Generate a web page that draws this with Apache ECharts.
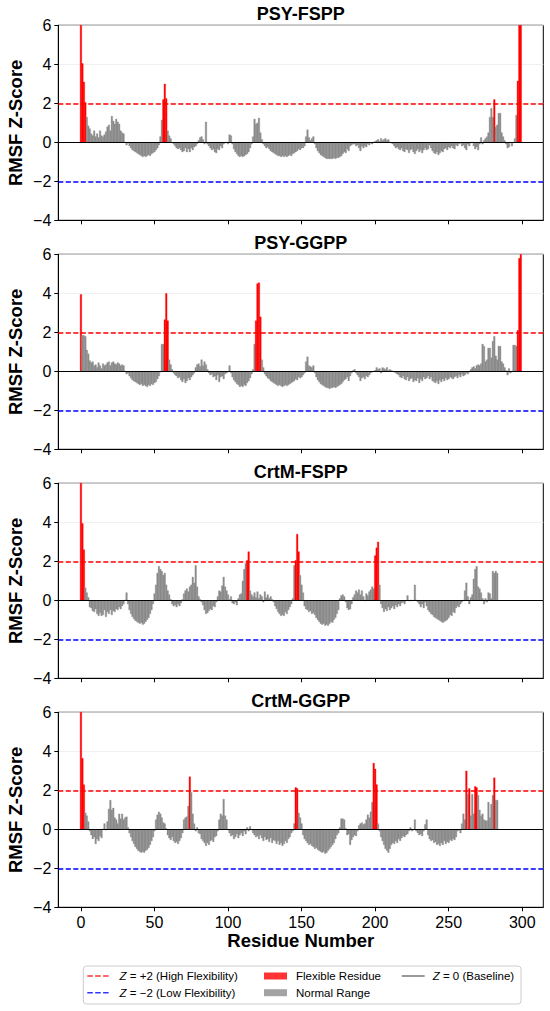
<!DOCTYPE html>
<html><head><meta charset="utf-8">
<script src="https://cdn.jsdelivr.net/npm/echarts@6/dist/echarts.min.js"></script>
<style>html,body{margin:0;padding:0;background:#fff}#c{width:550px;height:1011px}</style>
</head><body><div id="c"></div><script>
// ---------------- DATA ----------------
const panelTitles = ['PSY-FSPP', 'PSY-GGPP', 'CrtM-FSPP', 'CrtM-GGPP'];
const xTickValues = [0, 50, 100, 150, 200, 250, 300];
const flexThreshold = 2;

const psyFspp = [
  6.5, 4.05, 3.1, 2.05, 1.3, 0.85, 0.7, 0.45, 0.35, 0.6,
  0.3, 0.45, 0.25, 0.6, 0.35, 0.3, 0.4, 0.55, 0.8, 0.9,
  0.6, 1.35, 1.1, 0.95, 1.2, 1.05, 0.95, 0.6, 0.5, 0.45,
  0.0, -0.15, 0.0, -0.2, -0.3, -0.4, -0.45, -0.5, -0.55, -0.6,
  -0.65, -0.7, -0.75, -0.7, -0.75, -0.7, -0.65, -0.7, -0.6, -0.55,
  -0.5, -0.4, -0.3, -0.15, 0.3, 1.15, 2.2, 3.0, 2.25, 0.6,
  0.35, 0.2, 0.0, -0.1, -0.2, -0.3, -0.35, -0.3, -0.4, -0.5,
  -0.45, -0.3, -0.5, -0.35, -0.5, -0.3, -0.4, -0.25, -0.2, -0.1,
  0.1, 0.25, 0.3, 0.15, -0.1, 1.05, -0.1, -0.2, -0.3, -0.4,
  -0.35, -0.5, -0.55, -0.35, -0.4, -0.2, -0.3, -0.1, -0.05, 0.0,
  -0.1, 0.4, 0.35, -0.1, -0.35, -0.5, -0.6, -0.7, -0.75, -0.7,
  -0.75, -0.7, -0.65, -0.6, -0.5, -0.3, -0.1, 0.3, 1.2, 0.95,
  1.0, 1.25, 0.5, 0.15, -0.1, -0.2, -0.3, -0.25, -0.35, -0.45,
  -0.5, -0.55, -0.6, -0.65, -0.7, -0.7, -0.75, -0.7, -0.75, -0.7,
  -0.75, -0.7, -0.65, -0.7, -0.6, -0.55, -0.5, -0.45, -0.35, -0.4,
  -0.3, -0.3, -0.2, 0.3, 0.65, 0.25, 0.1, 0.2, 0.3, -0.1,
  -0.3, -0.45, -0.55, -0.65, -0.7, -0.75, -0.8, -0.85, -0.85, -0.85,
  -0.85, -0.85, -0.8, -0.85, -0.8, -0.8, -0.75, -0.7, -0.6, -0.5,
  -0.55, -0.35, -0.45, -0.2, -0.15, -0.1, -0.1, -0.2, -0.15, -0.3,
  -0.45, -0.2, -0.3, -0.2, -0.25, -0.1, -0.15, -0.05, -0.1, 0.0,
  0.05, 0.1, 0.15, 0.05, 0.2, 0.1, 0.15, 0.2, 0.1, 0.15,
  0.0, -0.05, -0.1, -0.2, -0.3, -0.25, -0.35, -0.4, -0.3, -0.45,
  -0.5, -0.35, -0.4, -0.55, -0.4, -0.35, -0.5, -0.6, -0.45, -0.35,
  -0.5, -0.4, -0.55, -0.4, -0.3, -0.4, -0.35, -0.15, -0.3, -0.45,
  -0.55, -0.6, -0.5, -0.65, -0.55, -0.45, -0.5, -0.35, -0.3, -0.4,
  -0.25, -0.3, -0.2, -0.3, -0.35, -0.15, -0.2, -0.1, -0.05, -0.2,
  -0.15, -0.3, -0.4, -0.1, -0.2, -0.05, 0.0, -0.2, -0.35, -0.25,
  -0.4, -0.1, 0.25, -0.1, 0.1, 0.2, 0.3, 0.5, 1.3, 1.75,
  1.3, 2.2, 0.8, 0.9, 1.5, 1.5, 0.5, 0.3, 0.1, -0.1,
  -0.3, -0.25, 0.0, -0.2, 0.0, 0.2, 1.4, 3.15, 6.5, 6.5
];

const psyGgpp = [
  3.95, 1.85, 1.85, 1.8, 1.1, 0.9, 0.55, 0.45, 0.5, 0.3,
  0.35, 0.2, 0.45, 0.3, 0.15, 0.4, 0.3, 0.35, 0.45, 0.5,
  0.3, 0.45, 0.5, 0.4, 0.35, 0.45, 0.4, 0.3, 0.35, 0.3,
  0.0, -0.15, -0.1, -0.25, -0.35, -0.45, -0.5, -0.55, -0.6, -0.65,
  -0.7, -0.65, -0.75, -0.7, -0.75, -0.8, -0.7, -0.75, -0.65, -0.7,
  -0.6, -0.55, -0.4, -0.25, -0.05, 1.4, 1.4, 2.65, 4.0, 2.6,
  0.6, 0.35, 0.1, -0.1, -0.2, -0.25, -0.35, -0.3, -0.45, -0.55,
  -0.4, -0.6, -0.5, -0.35, -0.45, -0.3, -0.2, -0.1, 0.2, 0.35,
  0.4, 0.25, 0.6, 0.3, 0.5, 0.35, 0.1, -0.1, -0.2, -0.15,
  -0.3, -0.25, -0.45, -0.2, -0.55, -0.3, -0.25, -0.4, -0.15, -0.1,
  -0.05, 0.3, -0.1, -0.3, -0.45, -0.55, -0.65, -0.7, -0.8, -0.75,
  -0.8, -0.7, -0.75, -0.6, -0.5, -0.35, -0.15, 0.1, 1.4, 2.6,
  4.5, 4.55, 2.8, 0.6, 0.2, -0.15, -0.25, -0.35, -0.4, -0.5,
  -0.55, -0.6, -0.65, -0.7, -0.75, -0.7, -0.75, -0.8, -0.75, -0.7,
  -0.75, -0.7, -0.65, -0.6, -0.55, -0.5, -0.4, -0.45, -0.3, -0.35,
  -0.3, -0.2, -0.1, 0.5, 0.75, 0.3, 0.25, 0.2, 0.3, -0.1,
  -0.3, -0.45, -0.55, -0.65, -0.7, -0.75, -0.8, -0.85, -0.85, -0.9,
  -0.85, -0.85, -0.8, -0.85, -0.8, -0.75, -0.7, -0.65, -0.55, -0.45,
  -0.4, -0.3, -0.5, -0.25, -0.1, 0.05, 0.1, -0.1, -0.2, -0.3,
  -0.5, -0.35, -0.3, -0.4, -0.25, -0.3, -0.2, -0.1, -0.05, 0.0,
  0.05, 0.2, 0.1, 0.15, -0.1, 0.2, 0.15, 0.1, 0.2, 0.05,
  0.1, 0.05, 0.0, -0.05, -0.1, -0.15, -0.2, -0.3, -0.35, -0.25,
  -0.4, -0.45, -0.3, -0.5, -0.4, -0.35, -0.55, -0.45, -0.5, -0.35,
  -0.6, -0.4, -0.5, -0.3, -0.4, -0.35, -0.25, -0.4, -0.3, -0.5,
  -0.55, -0.6, -0.5, -0.65, -0.45, -0.55, -0.4, -0.5, -0.35, -0.45,
  -0.4, -0.3, -0.35, -0.4, -0.3, -0.25, -0.35, -0.2, -0.3, -0.15,
  -0.25, -0.2, -0.1, -0.15, -0.05, 0.1, 0.2, 0.25, 0.15, 0.3,
  0.35, 0.3, 0.4, 1.4, 1.3, 0.5, 0.6, 1.2, 1.2, 0.7,
  1.55, 1.8, 0.8, 0.6, 1.3, 1.3, 0.5, 0.4, 0.2, 0.05,
  -0.2, 0.15, -0.1, 0.0, 1.35, 1.35, 1.3, 2.1, 5.8, 6.0
];

const crtmFspp = [
  6.5, 3.95, 2.6, 0.65, 0.4, 0.15, -0.35, -0.4, -0.55, -0.6,
  -0.45, -0.7, -0.8, -0.65, -0.8, -0.75, -0.5, -0.85, -0.6, -0.7,
  -0.5, -0.75, -0.55, -0.6, -0.45, -0.5, -0.35, -0.45, -0.3, -0.2,
  0.0, 0.4, -0.2, -0.5, -0.7, -0.85, -0.95, -1.05, -1.1, -1.15,
  -1.2, -1.15, -1.25, -1.2, -1.1, -1.0, -0.9, -0.7, -0.5, -0.2,
  0.35, 0.8, 1.4, 1.75, 1.6, 1.5, 1.3, 1.4, 0.8, 0.5,
  0.3, 0.05, -0.2, -0.3, -0.25, -0.35, -0.2, -0.3, -0.15, 0.05,
  0.35, 0.5, 0.6, 0.45, 0.7, 0.8, 1.2, 0.9, 1.8, 0.7,
  0.2, 0.05, -0.1, -0.25, -0.5, -0.7, -0.65, -0.55, -0.45, -0.5,
  -0.3, -0.35, -0.1, 0.2, 0.5, 0.45, 0.75, 1.2, 0.7, 0.5,
  0.3, 0.05, 0.2, -0.15, -0.2, -0.1, -0.25, 0.1, 0.3, 0.35,
  1.0, 1.6, 1.9, 2.05, 2.5, 0.5, 0.3, 0.2, 0.4, 0.15,
  0.45, 0.1, 0.3, 0.2, -0.1, 0.45, 0.15, 0.3, 0.1, 0.2,
  0.05, -0.1, -0.3, -0.45, -0.6, -0.7, -0.8, -0.75, -0.8, -0.6,
  -0.7, -0.5, -0.35, -0.2, 0.1, 1.8, 2.05, 3.4, 2.5, 1.3,
  0.8, 0.4, -0.3, -0.45, -0.5, -0.6, -0.55, -0.7, -0.65, -0.75,
  -0.9, -1.0, -1.1, -1.2, -1.25, -1.2, -1.3, -1.25, -1.3, -1.2,
  -1.1, -1.15, -1.0, -0.9, -0.7, -0.5, 0.1, 0.25, 0.3, 0.2,
  -0.1, -0.4, -0.5, -0.45, -0.2, 0.15, 0.3, 0.5, 0.4, 0.55,
  0.3, 0.5, 0.2, -0.05, 0.35, 0.25, 0.45, 0.55, 0.7, 0.6,
  2.3, 2.7, 3.0, 0.8, -0.2, -0.4, -0.6, -0.45, -0.55, -0.35,
  -0.5, -0.4, -0.3, -0.45, -0.25, -0.35, -0.2, -0.3, -0.15, -0.1,
  -0.2, -0.05, 0.25, -0.05, 0.0, -0.05, 0.0, 0.8, 0.0, -0.1,
  -0.2, -0.35, -0.2, -0.4, -0.1, -0.3, -0.5, -0.6, -0.7, -0.75,
  -0.85, -0.9, -0.95, -1.0, -1.05, -1.1, -1.15, -1.1, -1.05, -1.0,
  -0.9, -0.75, -0.8, -0.6, -0.65, -0.4, -0.3, -0.35, -0.2, -0.1,
  0.0, 0.5, 0.9, 0.2, -0.2, 0.15, 0.3, 1.1, 1.6, 1.75,
  0.7, 0.6, 0.4, 0.1, -0.2, 0.1, -0.1, 0.4, 0.35, 0.1,
  1.5, 1.4, 1.5, 1.4
];

const crtmGgpp = [
  6.5, 3.65, 2.3, 0.85, 0.7, 0.4, -0.1, -0.3, -0.5, -0.4,
  -0.75, -0.5, -0.6, -0.35, -0.45, 0.0, 0.3, -0.05, 0.4, 1.05,
  1.5, 1.0, 1.1, 0.6, 0.5, 0.3, 0.8, 0.55, 0.8, 0.5,
  0.6, 0.65, 0.1, -0.2, -0.4, -0.6, -0.75, -0.9, -1.0, -1.1,
  -1.15, -1.2, -1.15, -1.2, -1.1, -1.05, -0.95, -0.8, -0.6, -0.4,
  -0.1, 0.5, 0.75, 0.9, 0.8, 0.6, 0.35, 0.3, 0.05, -0.3,
  -0.45, -0.55, -0.4, -0.6, -0.7, -0.65, -0.75, -0.6, -0.45, -0.2,
  0.5, 0.6, 0.65, 1.2, 2.7, 1.9, 0.8, 0.3, -0.1, 0.1,
  -0.2, -0.25, -0.5, -0.6, -0.7, -0.85, -0.7, -0.8, -0.6, -0.55,
  -0.65, -0.4, -0.35, -0.1, 0.5, 0.8, 0.7, 1.55, 0.7, 0.5,
  -0.05, -0.2, -0.35, -0.3, -0.5, -0.4, -0.25, -0.45, -0.3, -0.2,
  -0.35, -0.1, -0.25, 0.1, -0.1, 0.15, -0.05, -0.2, -0.3, -0.4,
  -0.35, -0.5, -0.3, -0.45, -0.6, -0.4, -0.55, -0.5, -0.65, -0.45,
  -0.7, -0.55, -0.6, -0.75, -0.6, -0.8, -0.7, -0.85, -0.75, -0.6,
  -0.7, -0.5, -0.4, -0.2, -0.1, 0.3, 2.15, 2.1, 0.85, 0.6,
  0.3, -0.3, -0.5, -0.6, -0.7, -0.8, -0.75, -0.85, -0.9, -1.0,
  -0.95, -1.05, -1.1, -1.15, -1.2, -1.15, -1.25, -1.2, -1.1, -1.0,
  -0.9, -0.8, -0.7, -0.5, -0.3, -0.2, 0.1, 0.55, 0.55, 0.5,
  0.05, -0.3, -0.25, -0.8, -0.55, -0.4, -0.3, -0.35, -0.1, 0.2,
  0.3, 0.35, 0.25, 0.3, 0.5, 0.75, 0.6, 0.9, 1.4, 3.4,
  3.1, 2.3, 0.3, -0.1, -0.4, -0.6, -0.8, -1.0, -1.1, -1.2,
  -1.0, -0.8, -0.7, -0.75, -0.6, -0.7, -0.5, -0.6, -0.45, -0.35,
  -0.4, -0.3, -0.25, -0.1, 0.1, -0.1, -0.05, 0.5, -0.1, -0.2,
  -0.3, -0.25, -0.35, -0.1, 0.25, 0.5, -0.3, -0.5, -0.6, -0.55,
  -0.7, -0.65, -0.8, -0.75, -0.85, -0.7, -0.8, -0.6, -0.75, -0.65,
  -0.7, -0.55, -0.6, -0.5, -0.55, -0.4, -0.1, -0.05, -0.2, 0.3,
  0.8, 0.5, 3.0, 1.8, 2.1, 0.7, 1.8, 0.8, 2.2, 2.15,
  1.75, 1.0, 0.7, 0.8, 0.5, 0.45, 0.45, 1.4, 0.6, 1.3,
  1.75, 2.65, 1.5, 1.5
];

const panelValues = [psyFspp, psyGgpp, crtmFspp, crtmGgpp];
const legendNames = ['Z = +2 (High Flexibility)', 'Z = \u22122 (Low Flexibility)', 'Flexible Residue', 'Normal Range', 'Z = 0 (Baseline)'];

// ---------------- LAYOUT / STYLE ----------------
const FONT = '"Liberation Sans", Arial, Helvetica, sans-serif';
const RED = '#ff0000', BLUE = '#0000ff', GRAY = '#8c8c8c';
const PL = 58.3, PR = 543.3, PW = PR - PL, PH = 195;
const tops = [25.3, 254.3, 483.3, 712.3];
const xMin = -15.4, xMax = 314.3;
const cx = (PL + PR) / 2;

const chart = echarts.init(document.getElementById('c'), null, {renderer: 'svg'});

const grids = [], xAxes = [], yAxes = [], series = [], graphics = [];
const fmtY = v => String(v).replace('-', '\u2212');

panelValues.forEach((vals, i) => {
  grids.push({left: PL, top: tops[i], width: PW, height: PH, show: true, borderColor: '#000', borderWidth: 1, backgroundColor: 'transparent'});
  xAxes.push({
    type: 'value', gridIndex: i, min: xMin, max: xMax, position: 'bottom',
    axisLine: {show: true, onZero: false, lineStyle: {color: '#000', width: 1}},
    axisTick: {show: true, customValues: xTickValues, length: 4, lineStyle: {color: '#000', width: 1}},
    axisLabel: {show: i === 3, customValues: xTickValues, fontSize: 16, color: '#000', fontFamily: FONT, margin: 7},
    splitLine: {show: false}
  });
  yAxes.push({
    type: 'value', gridIndex: i, min: -4, max: 6, interval: 2, position: 'left',
    axisLine: {show: true, onZero: false, lineStyle: {color: '#000', width: 1}},
    axisTick: {show: true, length: 4, lineStyle: {color: '#000', width: 1}},
    axisLabel: {fontSize: 16, color: '#000', fontFamily: FONT, margin: 7, formatter: fmtY},
    splitLine: {show: true, lineStyle: {color: '#ececec', width: 0.8}}
  });
  series.push({
    type: 'bar', xAxisIndex: i, yAxisIndex: i, barWidth: 1.9, clip: true,
    data: vals.map((v, r) => {
      const c = v > flexThreshold ? RED : GRAY;
      return {value: [r, v], itemStyle: {color: c, borderColor: c, borderWidth: 0.35}};
    }),
    markLine: {
      silent: true, symbol: ['none', 'none'], label: {show: false}, animation: false,
      data: [
        {yAxis: 2, lineStyle: {color: RED, type: [5, 2.5], width: 1.5}},
        {yAxis: -2, lineStyle: {color: BLUE, type: [5, 2.5], width: 1.5}},
        {yAxis: 0, lineStyle: {color: '#000', type: 'solid', width: 1}}
      ]
    }
  });
  graphics.push({type: 'text', x: cx, y: tops[i] - 11.6, z: 10,
    style: {text: panelTitles[i], fontSize: 18, fontWeight: 'bold', fontFamily: FONT, fill: '#000', align: 'center', verticalAlign: 'middle', textAlign: 'center', textVerticalAlign: 'middle'}});
  graphics.push({type: 'text', x: 15, y: tops[i] + PH / 2, rotation: Math.PI / 2, z: 10,
    style: {text: 'RMSF Z-Score', fontSize: 18.5, fontWeight: 'bold', fontFamily: FONT, fill: '#000', align: 'center', verticalAlign: 'middle', textAlign: 'center', textVerticalAlign: 'middle'}});
});

graphics.push({type: 'text', x: cx, y: 940, z: 10,
  style: {text: 'Residue Number', fontSize: 18.5, fontWeight: 'bold', fontFamily: FONT, fill: '#000', align: 'center', verticalAlign: 'middle', textAlign: 'center', textVerticalAlign: 'middle'}});
graphics.push({type: 'rect', z: 0, shape: {x: 83.3, y: 966, width: 437.7, height: 38, r: 3},
  style: {fill: 'none', stroke: '#cccccc', lineWidth: 1}});

// legend dummy series
const legendColors = [RED, BLUE, RED, GRAY, '#000'];
legendNames.forEach((n, k) => series.push({type: 'scatter', name: n, data: [], xAxisIndex: 0, yAxisIndex: 0, itemStyle: {color: legendColors[k]}}));

const dashIcon = 'path://M0,0h5.5v1.5h-5.5z M7.9,0h5.5v1.5h-5.5z M15.8,0h5.5v1.5h-5.5z';
const lineIcon = 'path://M0,0h23v1h-23z';
const legendSpec = [
  {name: legendNames[0], left: 87.3, cy: 976, icon: dashIcon, w: 21.3, h: 1.5, pad: 6},
  {name: legendNames[1], left: 87.3, cy: 992.7, icon: dashIcon, w: 21.3, h: 1.5, pad: 6},
  {name: legendNames[2], left: 264, cy: 976, icon: 'rect', w: 23, h: 7, pad: 4},
  {name: legendNames[3], left: 264, cy: 992.7, icon: 'rect', w: 23, h: 7, pad: 4},
  {name: legendNames[4], left: 401.7, cy: 976, icon: lineIcon, w: 23, h: 1, pad: 3}
];
const legends = legendSpec.map(s => ({
  data: [s.name], left: s.left, top: s.cy - 7, padding: 0, icon: s.icon, itemWidth: s.w, itemHeight: s.h,
  selectedMode: false,
  formatter: nm => nm.charAt(0) === 'Z' ? '{i|Z}' + nm.slice(1) : nm,
  textStyle: {fontSize: 11.5, lineHeight: 14, color: '#000', fontFamily: FONT, padding: [0, 0, 0, s.pad],
    rich: {i: {fontStyle: 'italic', fontSize: 11.5, lineHeight: 14, color: '#000', fontFamily: FONT}}}
}));

chart.setOption({
  animation: false,
  backgroundColor: '#fff',
  grid: grids, xAxis: xAxes, yAxis: yAxes, series: series,
  legend: legends, graphic: graphics
});
</script></body></html>
